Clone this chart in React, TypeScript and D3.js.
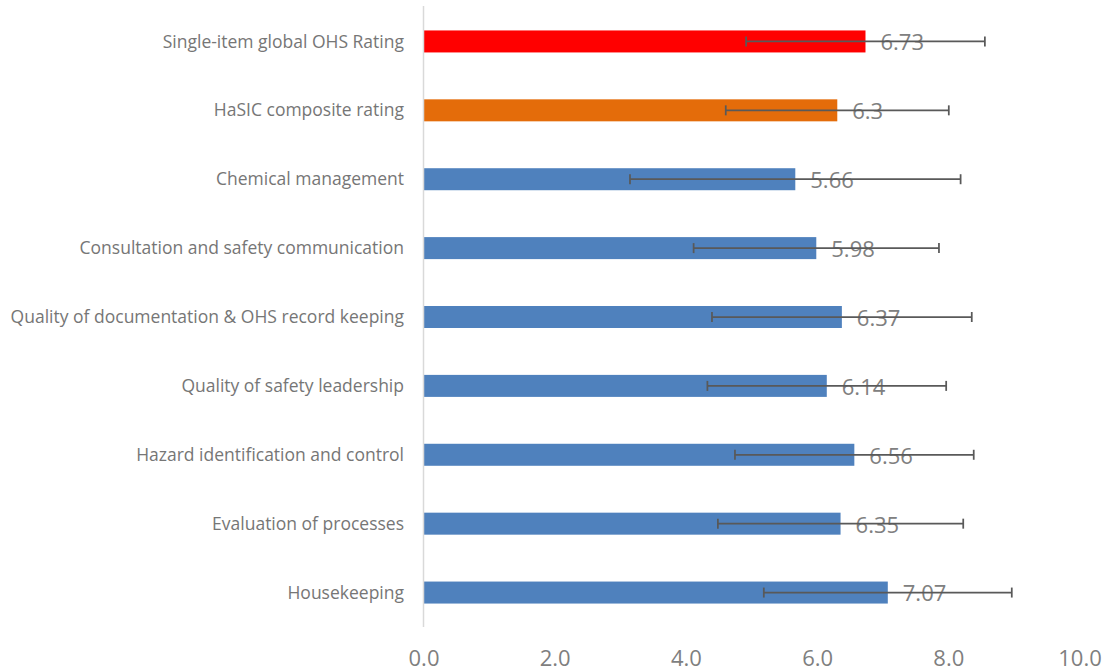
import React from "react";
import * as d3 from "d3";

const categories = [
  "Single-item global OHS Rating",
  "HaSIC composite rating",
  "Chemical management",
  "Consultation and safety communication",
  "Quality of documentation & OHS record keeping",
  "Quality of safety leadership",
  "Hazard identification and control",
  "Evaluation of processes",
  "Housekeeping",
];
const values = [6.73, 6.3, 5.66, 5.98, 6.37, 6.14, 6.56, 6.35, 7.07];
const errors = [1.82, 1.7, 2.52, 1.87, 1.98, 1.82, 1.82, 1.87, 1.89];
const barColors = ["#ff0000", "#e46c0a", "#4f81bd", "#4f81bd", "#4f81bd", "#4f81bd", "#4f81bd", "#4f81bd", "#4f81bd"];
const xTicks = [0, 2, 4, 6, 8, 10];

export default function App() {
  const W = 1109, H = 672;
  const left = 424, right = 1080, top = 7, bottom = 627;
  const x = d3.scaleLinear().domain([0, 10]).range([left, right]);
  const y = d3.scaleBand().domain(categories).range([top, bottom]).paddingInner(0.68).paddingOuter(0.34);
  const font = "'Open Sans', sans-serif";
  const bh = 22;
  return (
    <svg width={W} height={H} style={{ position: "absolute", left: 0, top: 0, background: "#fff" }}>
      {categories.map((c, i) => {
        const cy = (y(c) as number) + y.bandwidth() / 2;
        const v = values[i];
        const e = errors[i];
        return (
          <g key={c}>
            <rect x={x(0)} y={cy - bh / 2} width={x(v) - x(0)} height={bh} fill={barColors[i]} />
            <text x={404} y={cy} dy="0.35em" textAnchor="end" fontFamily={font} fontSize={17.5} fill="#767676">{c}</text>
            <text x={x(v) + 15} y={cy + 1} dy="0.36em" fontFamily={font} fontSize={22} fill="#808080">{String(v)}</text>
            <line x1={x(v - e)} x2={x(v + e)} y1={cy} y2={cy} stroke="#595959" strokeWidth={1.75} />
            <line x1={x(v - e)} x2={x(v - e)} y1={cy - 5} y2={cy + 5} stroke="#595959" strokeWidth={1.75} />
            <line x1={x(v + e)} x2={x(v + e)} y1={cy - 5} y2={cy + 5} stroke="#595959" strokeWidth={1.75} />
          </g>
        );
      })}
      <line x1={x(0) - 0.5} x2={x(0) - 0.5} y1={6} y2={627} stroke="#d9d9d9" strokeWidth={1.5} />
      {xTicks.map((t) => (
        <text key={t} x={x(t)} y={666} textAnchor="middle" fontFamily={font} fontSize={22} fill="#7f7f7f">{t.toFixed(1)}</text>
      ))}
    </svg>
  );
}
